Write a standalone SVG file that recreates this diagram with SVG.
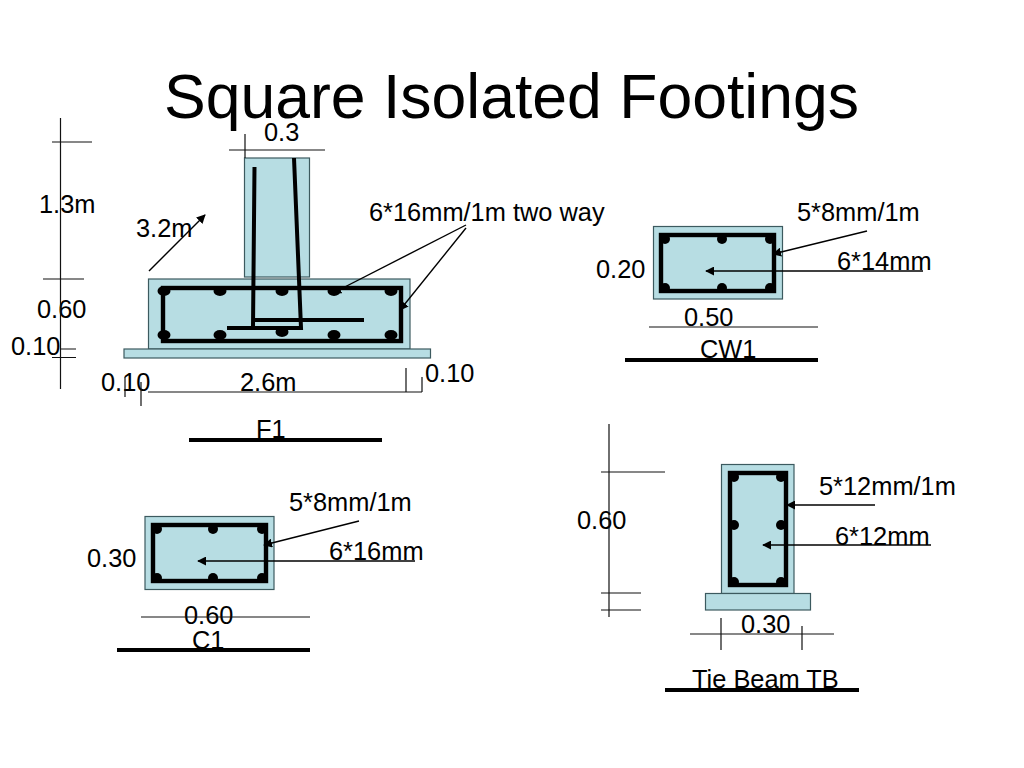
<svg xmlns="http://www.w3.org/2000/svg" width="1024" height="768" viewBox="0 0 1024 768">
<defs>
<marker id="ah" viewBox="0 0 10 10" refX="9" refY="5" markerWidth="9" markerHeight="9" markerUnits="userSpaceOnUse" orient="auto"><path d="M0 0L10 5L0 10Z" fill="#000"/></marker>
</defs>
<style>
text{font-family:"Liberation Sans",Arial,sans-serif;font-size:25.400px;fill:#000}
.t{font-size:62.500px}
.c{fill:#b7dde3;stroke:#3c5a5f;stroke-width:1.2}
.r{fill:none;stroke:#000;stroke-width:4.4}
.b{fill:none;stroke:#000;stroke-width:4}
.d{fill:none;stroke:#111;stroke-width:1.2}
.l{fill:none;stroke:#000;stroke-width:1.4}
.a{marker-end:url(#ah)}
.u{fill:none;stroke:#000;stroke-width:4}
</style>
<rect width="1024" height="768" fill="#fff"/>
<g id="title"><text class="t" x="511.500" y="118" text-anchor="middle">Square Isolated Footings</text></g>

<g id="footing-F1">
<rect class="c" x="244.500" y="158" width="65" height="119"/>
<rect class="c" x="148.500" y="279" width="261.500" height="70"/>
<rect class="c" x="124" y="349" width="306.500" height="9"/>
<rect class="r" x="163" y="288" width="238" height="53"/>
<g fill="#000">
<ellipse cx="164" cy="291" rx="6.500" ry="5"/><ellipse cx="220" cy="291" rx="6.500" ry="5"/><ellipse cx="282" cy="291" rx="6.500" ry="5"/><ellipse cx="334" cy="291" rx="6.500" ry="5"/><ellipse cx="391" cy="291" rx="6.500" ry="5"/>
<ellipse cx="164" cy="335" rx="6.500" ry="5"/><ellipse cx="220" cy="335" rx="6.500" ry="5"/><ellipse cx="282" cy="332" rx="6.500" ry="5"/><ellipse cx="334" cy="335" rx="6.500" ry="5"/><ellipse cx="391" cy="335" rx="6.500" ry="5"/>
</g>
<path class="b" d="M254.500 167L253 328H301L294 158"/>
<path class="b" d="M227 328H301M253 320H364"/>
<text x="264" y="141">0.3</text>
<text x="39" y="213">1.3m</text>
<text x="136" y="237">3.2m</text>
<text x="37" y="318">0.60</text>
<text x="11" y="355">0.10</text>
<text x="101" y="391">0.10</text>
<text x="240" y="391">2.6m</text>
<text x="425" y="382">0.10</text>
<text x="256" y="438">F1</text>
<text x="369" y="221">6*16mm/1m two way</text>
</g>

<g id="section-CW1">
<rect class="c" x="653.500" y="226.500" width="129" height="72.500"/>
<rect class="r" x="661" y="235" width="113" height="56"/>
<g fill="#000"><circle cx="665" cy="239" r="5"/><circle cx="722" cy="239" r="5"/><circle cx="770" cy="239" r="5"/><circle cx="665" cy="288" r="5"/><circle cx="722" cy="288" r="5"/><circle cx="770" cy="288" r="5"/></g>
<text x="797" y="221">5*8mm/1m</text>
<text x="837" y="270">6*14mm</text>
<text x="596" y="278">0.20</text>
<text x="684" y="326">0.50</text>
<text x="700" y="358">CW1</text>
</g>

<g id="section-C1">
<rect class="c" x="145" y="516.500" width="129" height="73"/>
<rect class="r" x="153" y="525" width="113" height="56"/>
<g fill="#000"><circle cx="157" cy="529" r="5"/><circle cx="213" cy="529" r="5"/><circle cx="262" cy="529" r="5"/><circle cx="157" cy="578" r="5"/><circle cx="213" cy="578" r="5"/><circle cx="262" cy="578" r="5"/></g>
<text x="289" y="511">5*8mm/1m</text>
<text x="329" y="560">6*16mm</text>
<text x="87" y="567">0.30</text>
<text x="184" y="624">0.60</text>
<text x="192" y="649">C1</text>
</g>

<g id="section-TB">
<rect class="c" x="721.500" y="464.500" width="72.500" height="129"/>
<rect class="c" x="705.500" y="593.500" width="105" height="16.500"/>
<rect class="r" x="730" y="473" width="56" height="112"/>
<g fill="#000"><circle cx="734" cy="477" r="5"/><circle cx="781" cy="477" r="5"/><circle cx="734" cy="525" r="5"/><circle cx="781" cy="525" r="5"/><circle cx="734" cy="582" r="5"/><circle cx="781" cy="582" r="5"/></g>
<text x="819" y="495">5*12mm/1m</text>
<text x="835" y="545">6*12mm</text>
<text x="577" y="529">0.60</text>
<text x="741" y="633">0.30</text>
<text x="692" y="688">Tie Beam TB</text>
</g>

<g id="connectors">
<path class="d" d="M60.500 118V389M52 142H92M43 279H84M60 349H76M52 357.500H76"/>
<path class="d" d="M245 134V158M229 150H325"/>
<path class="d" d="M148 392H422M125 377V397M141 382V406M406 368V392M422 377V392"/>
<line class="l a" x1="149" y1="271" x2="205" y2="215"/>
<line class="l a" x1="466" y1="225" x2="333" y2="293"/>
<line class="l a" x1="466" y1="228" x2="400" y2="310"/>
<line class="l a" x1="867" y1="231" x2="773" y2="254"/>
<line class="l a" x1="923" y1="271" x2="706" y2="271"/>
<line class="l a" x1="359" y1="521" x2="264" y2="545"/>
<line class="l a" x1="415" y1="561" x2="198" y2="561"/>
<line class="l a" x1="875" y1="505" x2="787" y2="505"/>
<line class="l a" x1="931" y1="545" x2="763" y2="545"/>
<path class="d" d="M649 327H818M141 617H310"/>
<path class="d" d="M609 424V617M601 472H665M601 593H641M601 610H641"/>
<path class="d" d="M690 634H834M721 618V650M802 626V650"/>
<path class="u" d="M189 440H382M625 360H818M117 650H310M665 690H859"/>
</g>
</svg>
